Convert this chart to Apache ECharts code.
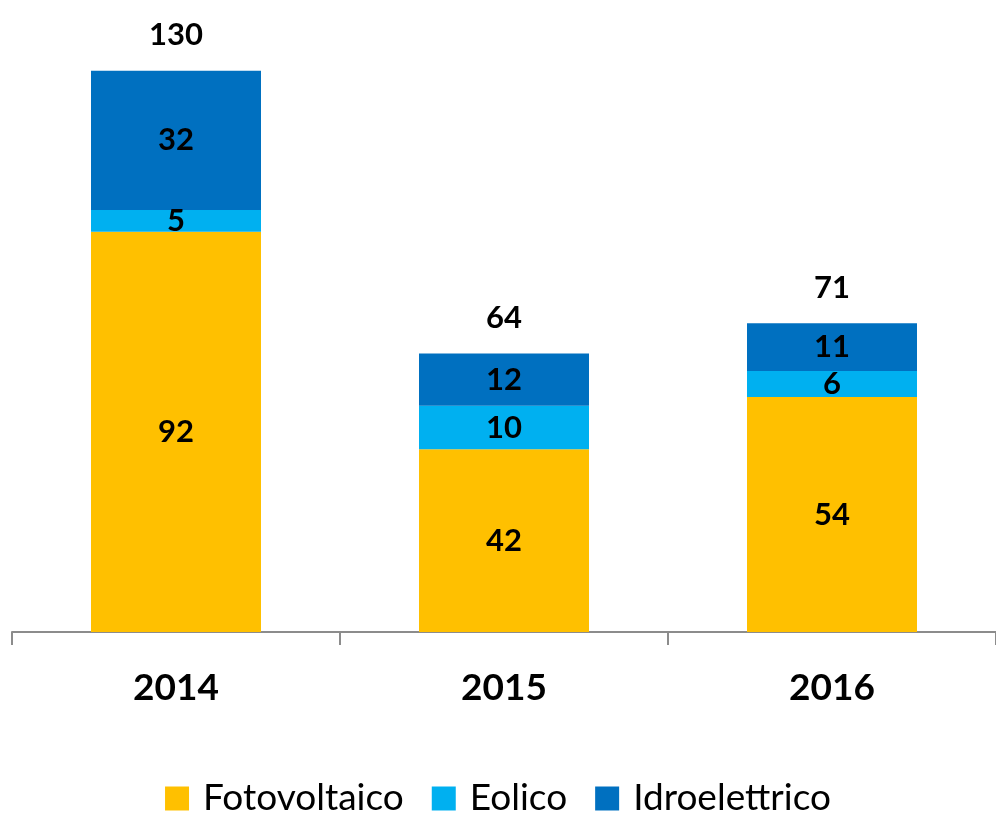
<!DOCTYPE html>
<html>
<head>
<meta charset="UTF-8">
<title>Fotovoltaico Eolico Idroelettrico</title>
<script type="text/javascript" src="https://cdn.jsdelivr.net/npm/echarts@6/dist/echarts.min.js"></script>
</head>
<body style="margin:0;">
<div id="main" style="width:996px;height:816px;"></div>
<script type="text/javascript">
    // dati
    var anni = ['2014', '2015', '2016'];
    var fotovoltaico = [92, 42, 54];
    var eolico = [5, 10, 6];
    var idroelettrico = [32, 12, 11];
    var totali = [130, 64, 71];

    var font = 'Lato, "Open Sans", sans-serif';
    var etichetta = {
        show: true,
        position: 'inside',
        color: '#000',
        fontFamily: font,
        fontWeight: 'bold',
        fontSize: 31
    };

    var myChart = echarts.init(document.getElementById('main'));
    var option = {
        animation: false,
        textStyle: { fontFamily: font },
        grid: { left: 12, right: 0, top: 23, bottom: 184, containLabel: false },
        legend: {
            data: ['Fotovoltaico', 'Eolico', 'Idroelettrico'],
            top: 780,
            left: 'center',
            padding: 0,
            itemWidth: 24,
            itemHeight: 24,
            itemGap: 28,
            icon: 'rect',
            textStyle: { fontSize: 37, color: '#000', fontFamily: font, padding: [0, 0, 0, 9] }
        },
        xAxis: {
            type: 'category',
            data: anni,
            axisLine: { lineStyle: { color: '#8c8c8c', width: 2 } },
            axisTick: { show: true, length: 13, lineStyle: { color: '#8c8c8c', width: 2 } },
            axisLabel: { color: '#000', fontSize: 37, fontWeight: 'bold', margin: 38, fontFamily: font }
        },
        yAxis: {
            type: 'value',
            min: 0,
            max: 140,
            show: false,
            splitLine: { show: false }
        },
        series: [
            {
                name: 'Fotovoltaico',
                type: 'bar',
                stack: 'tot',
                barWidth: 170,
                itemStyle: { color: '#FFC000' },
                label: etichetta,
                data: fotovoltaico
            },
            {
                name: 'Eolico',
                type: 'bar',
                stack: 'tot',
                itemStyle: { color: '#00B0F0' },
                label: etichetta,
                data: eolico
            },
            {
                name: 'Idroelettrico',
                type: 'bar',
                stack: 'tot',
                itemStyle: { color: '#0070C0' },
                label: etichetta,
                data: idroelettrico
            },
            {
                name: 'Totale',
                type: 'bar',
                stack: 'tot',
                itemStyle: { color: 'transparent' },
                label: {
                    show: true,
                    position: 'top',
                    distance: 20,
                    color: '#000',
                    fontFamily: font,
                    fontWeight: 'bold',
                    fontSize: 31,
                    formatter: function (p) { return totali[p.dataIndex]; }
                },
                data: [0, 0, 0]
            }
        ]
    };
    myChart.setOption(option);
</script>
</body>
</html>
